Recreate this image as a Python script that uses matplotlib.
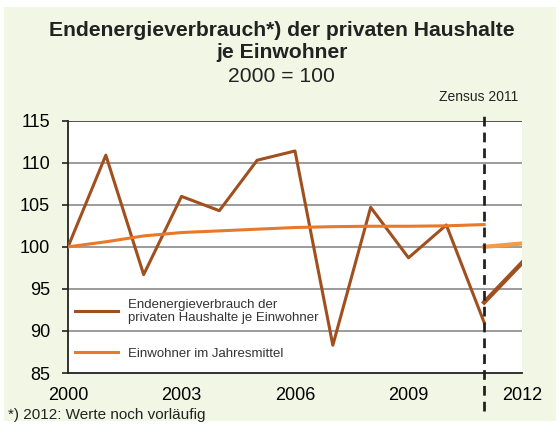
import matplotlib.pyplot as plt
from matplotlib.patches import Rectangle

plt.rcParams['font.family'] = ['Liberation Sans', 'DejaVu Sans']

# Werte (2000 = 100)
years = [2000, 2001, 2002, 2003, 2004, 2005, 2006, 2007, 2008, 2009, 2010, 2011]
energy = [100.0, 110.9, 96.7, 106.0, 104.3, 110.3, 111.4, 88.3, 104.7, 98.7, 102.6, 91.0]
population = [100.0, 100.6, 101.3, 101.7, 101.9, 102.1, 102.3, 102.4, 102.45, 102.45, 102.5, 102.65]

# nach Zensus 2011
years_new = [2011, 2012]
energy_new = [93.4, 98.1]
population_new = [100.0, 100.4]

yticks = [85, 90, 95, 100, 105, 110, 115]
xticks = [2000, 2003, 2006, 2009, 2012]

brown = '#a0501f'
orange = '#e8782a'
orange_light = '#f49b48'
bg = '#f2f7e5'

fig = plt.figure(figsize=(5.6, 4.25), dpi=100, facecolor='white')
fig.patches.append(Rectangle((4 / 560, 4 / 425), 552 / 560, 414 / 425,
                             transform=fig.transFigure, facecolor=bg,
                             edgecolor='none', zorder=-10))

ax = fig.add_axes([68 / 560, 52 / 425, 454 / 560, 252.3 / 425])
ax.set_facecolor('white')

ax.plot(years, energy, color=brown, lw=2.2, zorder=3,
        label='Endenergieverbrauch der\nprivaten Haushalte je Einwohner')
ax.plot(years, population, color=orange, lw=2.2, zorder=3,
        label='Einwohner im Jahresmittel')
ax.plot(years_new, energy_new, color=brown, lw=3.2, zorder=3)
ax.plot(years_new, population_new, color=orange_light, lw=3.0, zorder=3)

ax.set_xlim(2000, 2012)
ax.set_ylim(85, 115)
ax.set_yticks(yticks)
ax.set_xticks(xticks)
ax.tick_params(axis='y', length=4, width=1.2, color='#222222', pad=9, labelsize=13)
ax.tick_params(axis='x', length=0, pad=10, labelsize=13)

for v in yticks[1:-1]:
    ax.axhline(v, color='#808080', lw=1.1, zorder=1)
ax.axhline(115, color='#333333', lw=1.2, zorder=1)

for s in ['top', 'right']:
    ax.spines[s].set_visible(False)
for s in ['left', 'bottom']:
    ax.spines[s].set_color('#222222')
    ax.spines[s].set_linewidth(1.3)

# Zensus-Bruch
ax.axvline(2011, ymin=-0.15, ymax=1.03, color='#222222', lw=2.0,
           dashes=(3.5, 2.2), clip_on=False, zorder=4)
ax.text(2010.85, 1.094, 'Zensus 2011', transform=ax.get_xaxis_transform(),
        ha='center', va='center', fontsize=10, color='#222222')

leg = ax.legend(loc='upper left', bbox_to_anchor=(0.015, 0.295), frameon=False,
                fontsize=9.5, handlelength=3.3, handletextpad=0.7,
                borderpad=0, borderaxespad=0, labelspacing=1.75)
for t in leg.get_texts():
    t.set_color('#333333')

fig.text(0.503, 0.929, 'Endenergieverbrauch*) der privaten Haushalte',
         ha='center', va='center', fontsize=15.2, fontweight='bold', color='#222222')
fig.text(0.503, 0.877, 'je Einwohner', ha='center', va='center',
         fontsize=15.2, fontweight='bold', color='#222222')
fig.text(0.503, 0.821, '2000 = 100', ha='center', va='center',
         fontsize=15.2, color='#222222')
fig.text(8 / 560, 0.024, '*) 2012: Werte noch vorläufig', ha='left',
         va='center', fontsize=11, color='#222222')

fig.savefig('out.png', dpi=100, facecolor='white')
